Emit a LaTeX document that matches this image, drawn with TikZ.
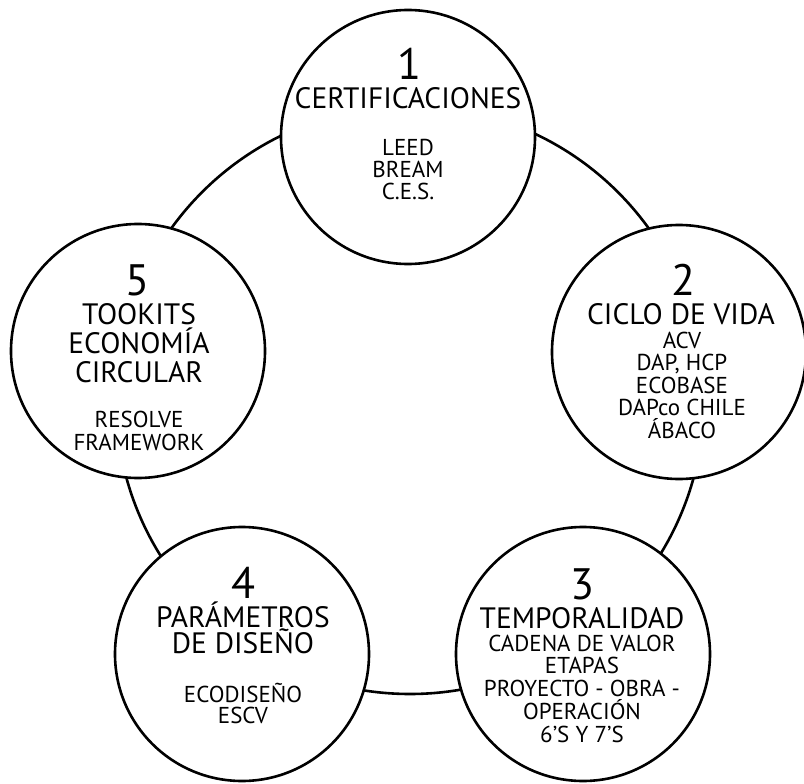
\documentclass[tikz,border=0pt]{standalone}
\usepackage{fontspec}
\setmainfont{PT Sans}
\begin{document}
\begin{tikzpicture}[x=1pt,y=-1pt,
  trazo/.style={line width=2.6pt},
  etapa/.style={trazo,draw,circle,fill=white,minimum size=254pt,inner sep=0pt},
  numero/.style={anchor=base,inner sep=0pt,font=\fontsize{44}{44}\selectfont},
  titulo/.style={anchor=base,inner sep=0pt,align=center,font=\fontsize{29.5}{29}\selectfont},
  detalle/.style={anchor=base,inner sep=0pt,align=center,font=\fontsize{23}{22.5}\selectfont}]
\useasboundingbox (0,0) rectangle (804,784);

% anillo de fondo
\coordinate (centro) at (410,400);
\draw[trazo] (centro) circle[radius=294];

% etapas
\node[etapa] (c1) at (408,137) {};
\node[etapa] (c2) at (679,352) {};
\node[etapa] (c3) at (583,654) {};
\node[etapa] (c4) at (242,654) {};
\node[etapa] (c5) at (138,351) {};

% 1 (base = ultima linea)
\node[numero] (n1) at (409,80) {1};
\node[titulo] (t1) at (408,109) {CERTIFICACIONES};
\node[detalle,font=\fontsize{23}{22}\selectfont] (d1) at (408,199) {LEED\\BREAM\\C.E.S.};

% 2
\node[numero] (n2) at (683,295) {2};
\node[titulo] (t2) at (681,324) {CICLO DE VIDA};
\node[detalle] (d2) at (682,438) {ACV\\DAP, HCP\\ECOBASE\\DAPco CHILE\\ÁBACO};

% 3
\node[numero] (n3) at (582,599) {3};
\node[titulo] (t3) at (582,628) {TEMPORALIDAD};
\node[detalle,font=\fontsize{23}{22.75}\selectfont] (d3) at (582,742) {CADENA DE VALOR\\ETAPAS\\PROYECTO - OBRA -\\OPERACIÓN\\6’S Y 7’S};

% 4
\node[numero] (n4) at (243,598) {4};
\node[titulo,font=\fontsize{29.5}{26.5}\selectfont] (t4) at (243,653.5) {PARÁMETROS\\DE DISEÑO};
\node[detalle,font=\fontsize{23}{21.5}\selectfont] (d4) at (243,723.5) {ECODISEÑO\\ESCV};

% 5
\node[numero] (n5) at (137,295) {5};
\node[titulo] (t5) at (139,382.5) {TOOKITS\\ECONOMÍA\\CIRCULAR};
\node[detalle] (d5) at (139,450) {RESOLVE\\FRAMEWORK};

\end{tikzpicture}
\end{document}
